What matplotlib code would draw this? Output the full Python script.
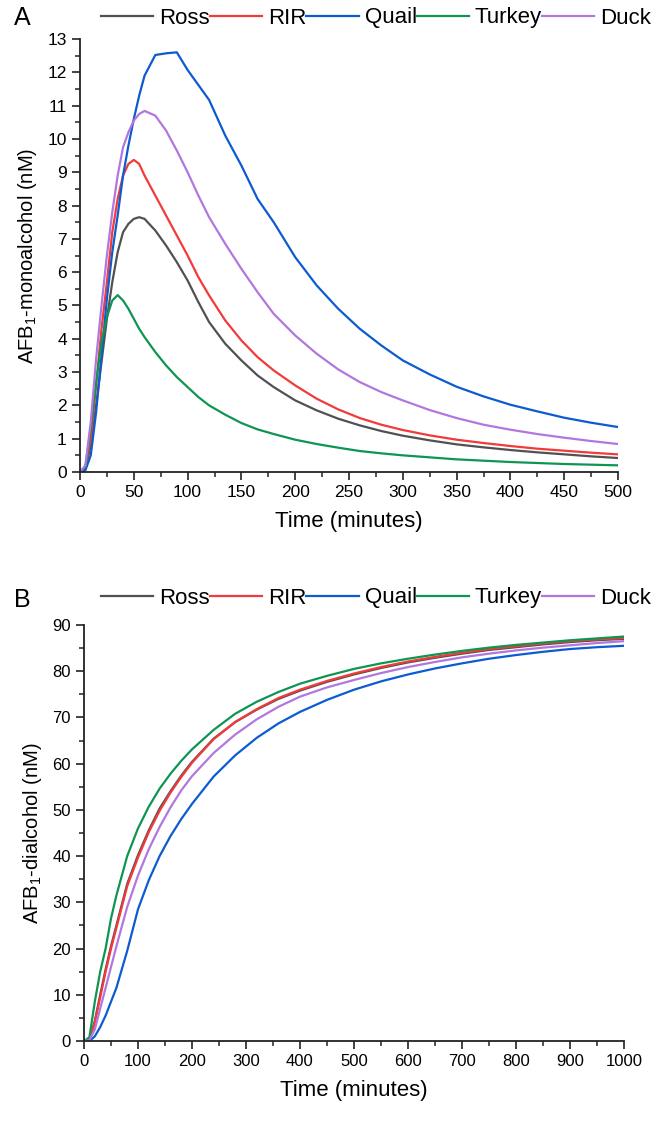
import numpy as np
import matplotlib
matplotlib.use("Agg")
import matplotlib.pyplot as plt
from matplotlib.ticker import MultipleLocator

# Fonts (Arial-like look).
plt.rcParams['font.family'] = ['Liberation Sans', 'DejaVu Sans']
plt.rcParams['mathtext.fontset'] = 'custom'
plt.rcParams['mathtext.rm'] = 'Liberation Sans'
plt.rcParams['mathtext.it'] = 'Liberation Sans:italic'

# Species and colours.
species = ['Ross', 'RIR', 'Quail', 'Turkey', 'Duck']
colors = ['#515151', '#f23a3a', '#0d5bd1', '#0e9552', '#b177de']

# Panel A: AFB1-monoalcohol (nM) vs time (minutes).
timeA = [0, 5, 10, 15, 20, 25, 30, 35, 40, 45, 50, 55, 60, 70, 80, 90, 100, 110, 120,
         135, 150, 165, 180, 200, 220, 240, 260, 280, 300, 325, 350, 375, 400, 425,
         450, 475, 500]
rossA = [0, 0.1, 0.8, 2.0, 3.3, 4.6, 5.7, 6.6, 7.2, 7.45, 7.6, 7.65, 7.6, 7.25, 6.8,
         6.3, 5.75, 5.1, 4.5, 3.85, 3.35, 2.9, 2.55, 2.15, 1.85, 1.6, 1.4, 1.23, 1.09,
         0.95, 0.83, 0.74, 0.66, 0.59, 0.53, 0.47, 0.42]
rirA = [0, 0.15, 1.0, 2.6, 4.3, 5.7, 7.2, 8.2, 8.9, 9.25, 9.37, 9.25, 8.9, 8.3, 7.7,
        7.1, 6.5, 5.85, 5.3, 4.55, 3.95, 3.45, 3.05, 2.6, 2.2, 1.88, 1.62, 1.42, 1.26,
        1.1, 0.97, 0.87, 0.78, 0.7, 0.64, 0.58, 0.53]
quailA = [0, 0.05, 0.5, 1.8, 3.5, 5.2, 6.6, 7.7, 8.9, 9.8, 10.6, 11.3, 11.9, 12.52,
          12.57, 12.6, 12.07, 11.62, 11.17, 10.1, 9.2, 8.2, 7.5, 6.45, 5.6, 4.9, 4.3,
          3.8, 3.35, 2.93, 2.56, 2.27, 2.02, 1.82, 1.63, 1.48, 1.35]
turkeyA = [0, 0.15, 1.3, 2.7, 3.9, 4.65, 5.15, 5.31, 5.15, 4.9, 4.6, 4.3, 4.05, 3.6,
           3.2, 2.85, 2.55, 2.25, 2.0, 1.72, 1.47, 1.28, 1.14, 0.97, 0.84, 0.73, 0.63,
           0.56, 0.5, 0.44, 0.38, 0.34, 0.3, 0.27, 0.24, 0.22, 0.2]
duckA = [0, 0.2, 1.5, 3.4, 5.0, 6.5, 7.8, 8.9, 9.75, 10.2, 10.55, 10.75, 10.84, 10.7,
         10.25, 9.65, 9.0, 8.3, 7.65, 6.85, 6.1, 5.4, 4.75, 4.1, 3.55, 3.08, 2.7, 2.4,
         2.15, 1.86, 1.62, 1.42, 1.27, 1.14, 1.03, 0.93, 0.84]

# Panel B: AFB1-dialcohol (nM) vs time (minutes).
timeB = [0, 10, 20, 30, 40, 50, 60, 80, 100, 120, 140, 160, 180, 200, 240, 280, 320,
         360, 400, 450, 500, 550, 600, 650, 700, 750, 800, 850, 900, 950, 1000]
rossB = [0, 0.3, 4.3, 10, 15.5, 20.5, 25, 34, 40.2, 45.6, 50.3, 54, 57.4, 60.4, 65.4,
         69, 71.7, 74, 75.8, 77.7, 79.3, 80.7, 81.9, 82.9, 83.8, 84.6, 85.2, 85.8,
         86.3, 86.7, 87.0]
rirB = [0, 0.3, 4, 9.5, 15, 20, 24.5, 33.5, 39.7, 45.2, 49.8, 53.7, 57.1, 60.2, 65.3,
        69, 71.8, 74.2, 76, 77.9, 79.5, 80.9, 82.1, 83.1, 84, 84.8, 85.4, 86, 86.5,
        86.9, 87.2]
quailB = [0, 0, 1, 3, 5.5, 8.5, 11.5, 19.5, 28.5, 34.8, 40, 44.3, 48, 51.3, 57.2,
          61.8, 65.6, 68.7, 71.2, 73.8, 76, 77.8, 79.3, 80.6, 81.7, 82.7, 83.5, 84.2,
          84.8, 85.2, 85.5]
turkeyB = [0, 0.8, 8.5, 15, 20, 26.5, 31.5, 40, 46, 50.7, 54.6, 57.8, 60.6, 63.1, 67.3,
           70.8, 73.4, 75.5, 77.3, 79, 80.5, 81.7, 82.7, 83.6, 84.4, 85.1, 85.7, 86.2,
           86.7, 87.1, 87.5]
duckB = [0, 0.2, 2.5, 7, 11.5, 16, 20.5, 29, 35.8, 41.5, 46.3, 50.5, 54.2, 57.3, 62.3,
         66.3, 69.6, 72.3, 74.5, 76.5, 78.1, 79.6, 80.9, 82, 83, 83.8, 84.5, 85.1,
         85.6, 86.1, 86.5]

seriesA = [rossA, rirA, quailA, turkeyA, duckA]
seriesB = [rossB, rirB, quailB, turkeyB, duckB]

W, H = 653, 1125
fig = plt.figure(figsize=(W / 100, H / 100), dpi=100)

# Axes placed by pixel box (left, top, right, bottom).
def px_axes(l, t, r, b):
    return fig.add_axes([l / W, 1 - b / H, (r - l) / W, (b - t) / H])

axA = px_axes(80, 39, 618, 472)
axB = px_axes(84, 625, 624, 1041)


def style_axes(ax, tick_size):
    for s in ['top', 'right']:
        ax.spines[s].set_visible(False)
    for s in ['left', 'bottom']:
        ax.spines[s].set_linewidth(1.3)
        ax.spines[s].set_color('#222222')
    ax.tick_params(which='major', direction='out', length=6, width=1.2,
                   labelsize=tick_size, colors='#222222', labelcolor='black')
    ax.tick_params(which='minor', direction='out', length=3.5, width=1.1,
                   colors='#222222')


# Making plot A.
for name, vals, c in zip(species, seriesA, colors):
    axA.plot(timeA, vals, color=c, lw=1.6, label=name)
axA.set_xlim(0, 500)
axA.set_ylim(0, 13)
axA.xaxis.set_major_locator(MultipleLocator(50))
axA.xaxis.set_minor_locator(MultipleLocator(25))
axA.yaxis.set_major_locator(MultipleLocator(1))
axA.yaxis.set_minor_locator(MultipleLocator(0.5))
style_axes(axA, 12.5)
axA.set_xlabel('Time (minutes)', fontsize=16, labelpad=8)
axA.set_ylabel('AFB$_1$-monoalcohol (nM)', fontsize=14.5, labelpad=6)

# Making plot B.
for name, vals, c in zip(species, seriesB, colors):
    axB.plot(timeB, vals, color=c, lw=1.6, label=name)
axB.set_xlim(0, 1000)
axB.set_ylim(0, 90)
axB.xaxis.set_major_locator(MultipleLocator(100))
axB.xaxis.set_minor_locator(MultipleLocator(50))
axB.yaxis.set_major_locator(MultipleLocator(10))
axB.yaxis.set_minor_locator(MultipleLocator(5))
style_axes(axB, 12)
axB.set_xlabel('Time (minutes)', fontsize=16, labelpad=8)
axB.set_ylabel('AFB$_1$-dialcohol (nM)', fontsize=14.5, labelpad=6)

# Legends above each panel, one row.
for ax, ycen in [(axA, 18), (axB, 598)]:
    handles, labels = ax.get_legend_handles_labels()
    fig.legend(handles, labels, loc='center', ncol=5, frameon=False,
               bbox_to_anchor=(376 / W, 1 - ycen / H), fontsize=16,
               handlelength=2.35, handletextpad=0.27, columnspacing=0.0,
               borderpad=0, borderaxespad=0)

# Panel letters.
fig.text(14 / W, 1 - 18 / H, 'A', fontsize=18, va='center', ha='left')
fig.text(14 / W, 1 - 600 / H, 'B', fontsize=18, va='center', ha='left')

plt.savefig('out.png', dpi=100)
